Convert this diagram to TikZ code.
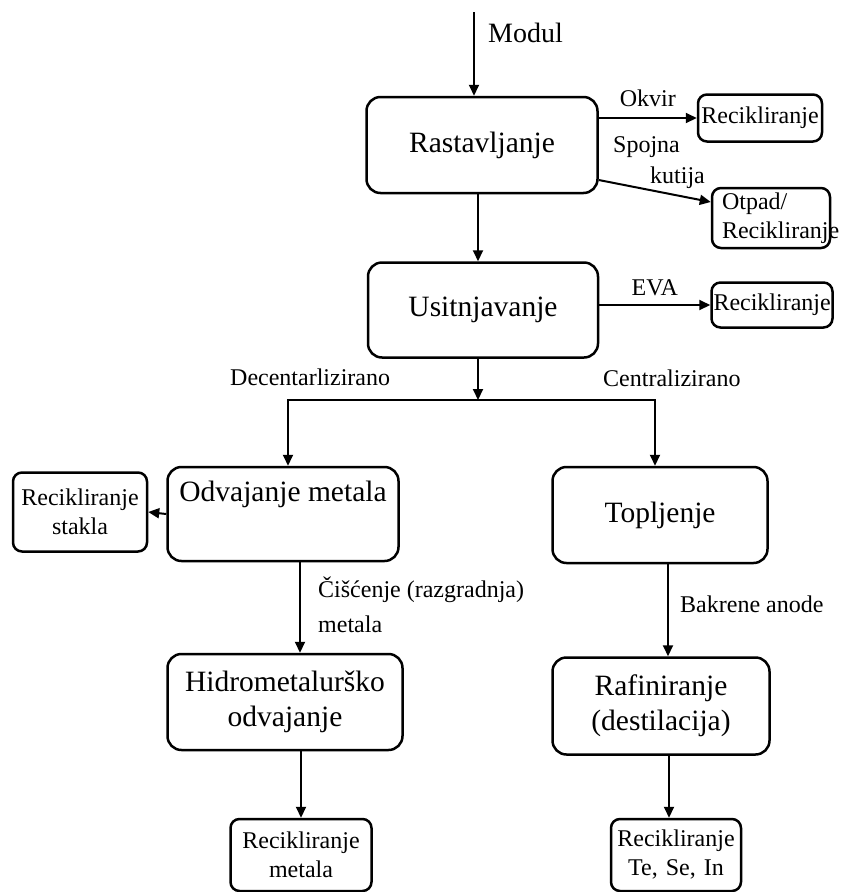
\documentclass[tikz,border=0pt]{standalone}
\usepackage{fontspec}
\setmainfont{Liberation Serif}
\usetikzlibrary{arrows.meta}
\tikzset{box/.style = {shape=rectangle,draw,line width=2.5pt,rounded corners=14pt,align=center,font=\fontsize{29.5}{35}\selectfont}}
\tikzset{smallbox/.style = {shape=rectangle,draw,line width=2.5pt,rounded corners=9pt,inner sep=2pt,font=\fontsize{24}{29}\selectfont}}
\tikzset{tag/.style = {inner sep=0pt,font=\fontsize{24}{29}\selectfont}}
\tikzset{edge/.style = {line width=2pt,-{Triangle[length=11pt,width=10pt]}}}

\begin{document}
\begin{tikzpicture}[x=1pt,y=-1pt]
  \useasboundingbox (0,0) rectangle (843,892);

  \node[box,minimum width=231pt,minimum height=96pt] (rast) at (482,145) {Rastavljanje};
  \node[box,minimum width=230pt,minimum height=95pt] (usit) at (483,310) {Usitnjavanje};
  \node[box,minimum width=231pt,minimum height=94pt] (odv) at (283,514) {Odvajanje metala\\\strut};
  \node[box,minimum width=215pt,minimum height=96pt] (topl) at (660,515) {Topljenje};
  \node[box,minimum width=235pt,minimum height=96pt] (hidro) at (285,702) {Hidrometalurško\\odvajanje};
  \node[box,minimum width=217pt,minimum height=97pt] (rafin) at (661,706) {Rafiniranje\\(destilacija)};

  \node[smallbox,text width=120pt,align=center,minimum height=47pt] (rec1) at (760,118) {Recikliranje};
  \node[smallbox,inner xsep=10pt,text width=98pt,align=left,minimum height=60pt] (otpad) at (771,218) {Otpad/\\Recikliranje};
  \node[smallbox,text width=117pt,align=left,minimum height=45pt] (rec2) at (772,305) {Recikliranje};
  \node[smallbox,text width=130pt,align=center,minimum height=79pt] (stakla) at (80,512) {Recikliranje\\stakla};
  \node[smallbox,text width=137pt,align=center,minimum height=72pt] (recmet) at (301,855) {Recikliranje\\metala};
  \node[smallbox,text width=126pt,align=center,minimum height=72pt] (tese) at (676,855) {Recikliranje\\Te, Se, In};

  \coordinate (modtop) at (474,12);
  \coordinate (split) at (478,400);
  \coordinate (lsplit) at (288,400);
  \coordinate (rsplit) at (655,400);

  \draw[edge] (modtop) to (modtop |- rast.north);
  \draw[edge] (rast.east |- rec1) to node (okvir) [tag,above=10pt] {Okvir} (rec1.west);
  \draw[edge] ([yshift=-35pt]rast.east) to ([yshift=16pt]otpad.west);
  \draw[edge] ([xshift=-4pt]rast.south) to ([xshift=-4pt]rast.south |- usit.north);
  \draw[edge] (usit.east |- rec2) to node (eva) [tag,above=8pt] {EVA} (rec2.west);
  \draw[edge] ([xshift=-5pt]usit.south) to (split);
  \draw[edge] (split) -| (lsplit |- odv.north);
  \draw[edge] (split) -| (rsplit |- topl.north);
  \draw[edge] (odv.west) to (stakla.east);
  \draw[edge] ([xshift=17pt]odv.south) to ([xshift=17pt]odv.south |- hidro.north);
  \draw[edge] ([xshift=8pt]topl.south) to ([xshift=8pt]topl.south |- rafin.north);
  \draw[edge] (hidro.south -| recmet.north) to (recmet.north);
  \draw[edge] ([xshift=8pt]rafin.south) to ([xshift=8pt]rafin.south |- tese.north);

  \node[tag,anchor=base west,font=\fontsize{28}{34}\selectfont] (modul) at (488,42) {Modul};
  \node[tag,anchor=base west] (spojna) at (613,152) {Spojna};
  \node[tag,anchor=base west] (kutija) at (650,183) {kutija};
  \node[tag,anchor=base west] (decent) at (230,385) {Decentarlizirano};
  \node[tag,anchor=base west] (central) at (603,386) {Centralizirano};
  \node[tag,anchor=base west] (cisc) at (318,597) {Čišćenje (razgradnja)};
  \node[tag,anchor=base west] (cisc2) at (318,632) {metala};
  \node[tag,anchor=base west] (bakar) at (680,612) {Bakrene anode};
\end{tikzpicture}
\end{document}
